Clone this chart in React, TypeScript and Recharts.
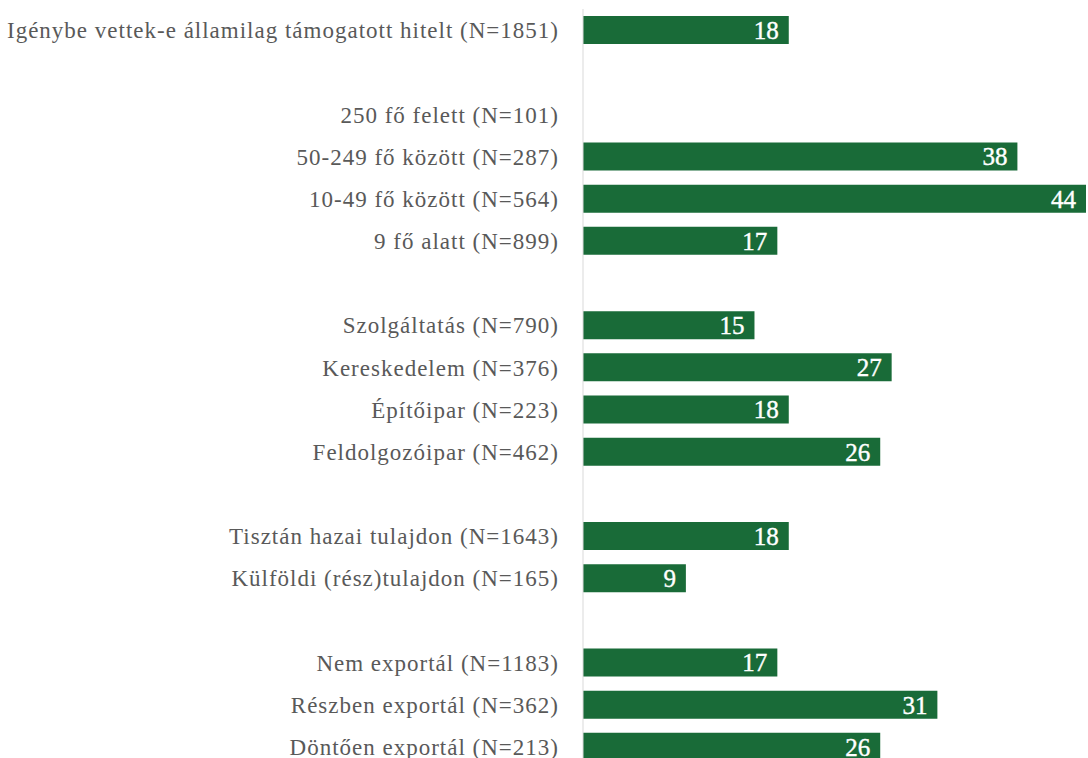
import { BarChart, Bar, XAxis, YAxis, LabelList } from "recharts";

const categories = [
  "Igénybe vettek-e államilag támogatott hitelt (N=1851)",
  "",
  "250 fő felett (N=101)",
  "50-249 fő között (N=287)",
  "10-49 fő között (N=564)",
  "9 fő alatt (N=899)",
  "",
  "Szolgáltatás (N=790)",
  "Kereskedelem (N=376)",
  "Építőipar (N=223)",
  "Feldolgozóipar (N=462)",
  "",
  "Tisztán hazai tulajdon (N=1643)",
  "Külföldi (rész)tulajdon (N=165)",
  "",
  "Nem exportál (N=1183)",
  "Részben exportál (N=362)",
  "Döntően exportál (N=213)",
];

const values: (number | null)[] = [
  18, null, null, 38, 44, 17, null, 15, 27, 18, 26, null, 18, 9, null, 17, 31, 26,
];

const data = categories.map((label, i) => ({ id: i, label, value: values[i] }));

const FONT = '"Liberation Serif", "DejaVu Serif", serif';

export default function App() {
  return (
    <div style={{ position: "absolute", left: 0, top: 0, width: 1088, height: 758, overflow: "hidden", background: "#fff" }}>
      <BarChart
        width={1086}
        height={768}
        data={data}
        layout="vertical"
        margin={{ top: 9, right: 0, left: 0, bottom: 0 }}
        barSize={28}
      >
        <XAxis type="number" domain={[0, 44]} hide />
        <YAxis
          type="category"
          dataKey="id"
          width={583}
          tickFormatter={(i: number) => categories[i]}
          tick={{ fontSize: 23, fill: "#595959", fontFamily: FONT, letterSpacing: 1 }}
          tickLine={false}
          tickMargin={18}
          axisLine={{ stroke: "#d9d9d9", strokeWidth: 1 }}
          interval={0}
        />
        <Bar dataKey="value" fill="#196b38" isAnimationActive={false}>
          <LabelList
            dataKey="value"
            position="insideRight"
            offset={10}
            fill="#ffffff"
            stroke="#ffffff"
            strokeWidth={0.4}
            style={{ fontSize: 25, fontWeight: 400, fontFamily: FONT }}
          />
        </Bar>
      </BarChart>
    </div>
  );
}
